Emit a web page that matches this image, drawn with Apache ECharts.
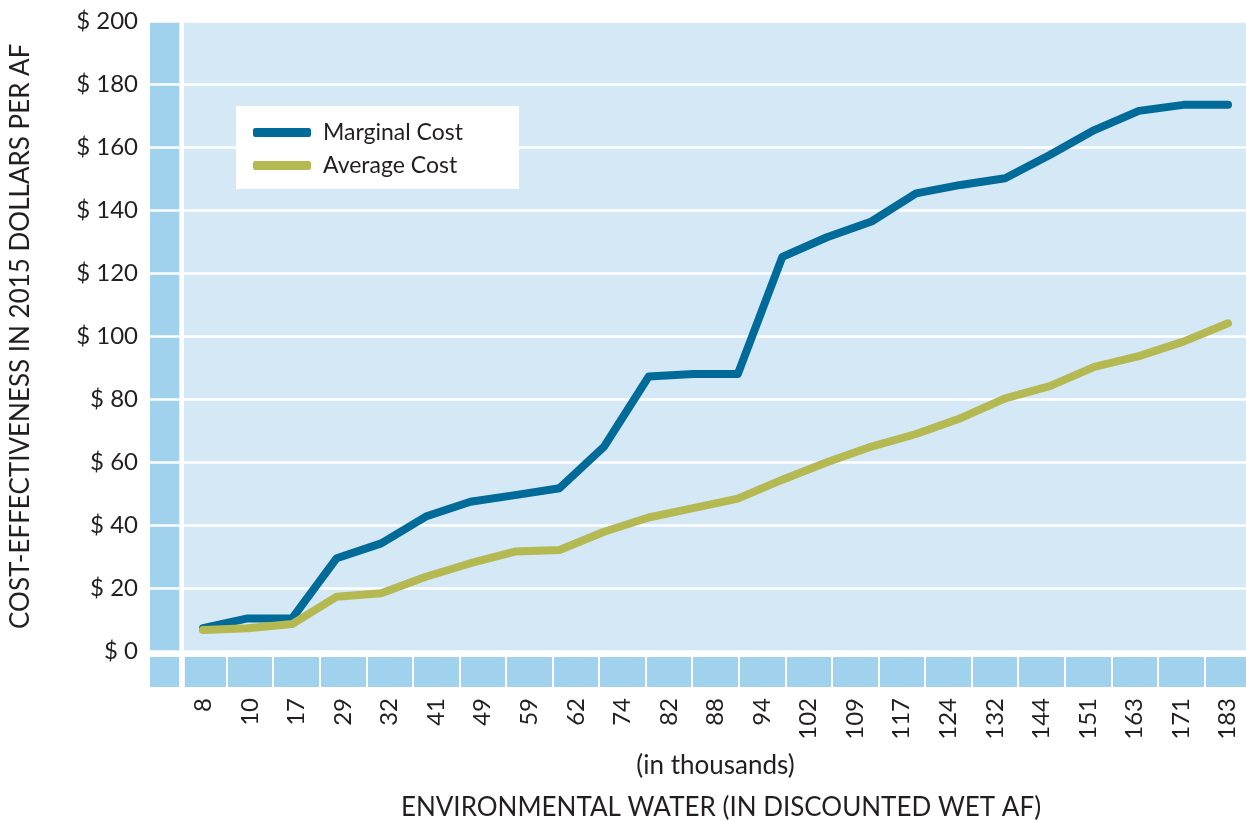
<!DOCTYPE html>
<html>
<head>
<meta charset="utf-8">
<script src="https://cdn.jsdelivr.net/npm/echarts@6/dist/echarts.min.js"></script>
<style>
  html, body { margin: 0; padding: 0; background: #fff; }
  #main { width: 1246px; height: 821px; }
</style>
</head>
<body>
<div id="main"></div>
<script>
// x labels (thousands of discounted wet AF)
const xLabels = ['8', '10', '17', '29', '32', '41', '49', '59', '62', '74', '82', '88',
  '94', '102', '109', '117', '124', '132', '144', '151', '163', '171', '183'];
// the plotted lines have 24 vertices, slightly off the label cells
const pointIdx = ['1', '2', '3', '4', '5', '6', '7', '8', '9', '10', '11', '12',
  '13', '14', '15', '16', '17', '18', '19', '20', '21', '22', '23', '24'];
const marginalCost = [7.4, 10.5, 10.5, 29.6, 34.3, 42.8, 47.5, 49.6, 51.8, 65.0, 87.2, 88.0,
  88.0, 125.2, 131.4, 136.4, 145.3, 148.0, 150.1, 157.5, 165.4, 171.5, 173.4, 173.4];
const averageCost = [6.8, 7.4, 8.7, 17.4, 18.5, 23.7, 28.0, 31.7, 32.2, 38.0, 42.5, 45.5,
  48.5, 54.5, 60.0, 65.0, 69.0, 74.0, 80.3, 84.2, 90.3, 93.7, 98.3, 104.1];
const yMin = 0, yMax = 200, yStep = 20;

const font = 'Lato';
const textColor = '#231f20';
const light = '#d4e8f5';
const dark = '#a0d2ed';

const chart = echarts.init(document.getElementById('main'));

const hiddenX = (gi) => ({ type: 'value', gridIndex: gi, show: false, min: 0, max: 1 });
const box = (o) => Object.assign({ outerBoundsMode: 'none', containLabel: false, borderWidth: 0 }, o);

const option = {
  animation: false,
  title: [{
    text: 'ENVIRONMENTAL WATER (IN DISCOUNTED WET AF)',
    left: 716, top: 790, textAlign: 'center',
    textStyle: { fontFamily: font, fontSize: 26, fontWeight: 'normal', color: textColor }
  }],
  legend: {
    data: ['Marginal Cost', 'Average Cost'],
    orient: 'vertical',
    left: 236, top: 106,
    backgroundColor: '#fff',
    padding: [15, 56, 12, 17],
    itemWidth: 58, itemHeight: 9,
    itemGap: 10,
    icon: 'roundRect',
    textStyle: { fontFamily: font, fontSize: 23, color: textColor, lineHeight: 22, padding: [0, 0, 0, 7] }
  },
  grid: [
    box({ left: 184, right: 0, top: 21, height: 630.5, show: true, backgroundColor: light }),
    box({ left: 150, width: 29.3, top: 21, height: 630.5, show: true, backgroundColor: dark }),
    box({ left: 150, width: 29.3, top: 657, height: 30, show: true, backgroundColor: dark }),
    box({ left: 180, width: 1071, top: 657, height: 30, show: true, backgroundColor: dark }),
    box({ left: 203, right: 18, top: 21, height: 630.5 })
  ],
  xAxis: [
    hiddenX(0),
    hiddenX(1),
    hiddenX(2),
    {
      type: 'category', gridIndex: 3, data: xLabels, boundaryGap: true,
      axisLine: { show: false }, axisTick: { show: false },
      splitLine: { show: true, lineStyle: { color: '#fff', width: 2 } },
      axisLabel: { rotate: 90, margin: 11, fontFamily: font, fontSize: 24, color: textColor, interval: 0 },
      name: '(in thousands)', nameLocation: 'middle', nameGap: 66,
      nameTextStyle: { fontFamily: font, fontSize: 26, color: textColor }
    },
    { type: 'category', gridIndex: 4, data: pointIdx, boundaryGap: false, show: false }
  ],
  yAxis: [
    {
      type: 'value', gridIndex: 0, min: yMin, max: yMax, interval: yStep,
      axisLine: { show: false }, axisTick: { show: false },
      splitLine: { show: true, lineStyle: { color: '#fff', width: 2.5 } },
      axisLabel: {
        margin: 46, fontFamily: font, fontSize: 24, color: textColor,
        formatter: (v) => '$ ' + v
      },
      name: 'COST-EFFECTIVENESS IN 2015 DOLLARS PER AF',
      nameLocation: 'middle', nameRotate: 90, nameGap: 150,
      nameTextStyle: { fontFamily: font, fontSize: 26, color: textColor }
    },
    {
      type: 'value', gridIndex: 1, min: yMin, max: yMax, interval: yStep,
      axisLine: { show: false }, axisTick: { show: false }, axisLabel: { show: false },
      splitLine: { show: true, lineStyle: { color: '#fff', width: 2.5 } }
    },
    { type: 'value', gridIndex: 2, show: false },
    {
      type: 'value', gridIndex: 3, offset: -2,
      axisLine: { show: true, lineStyle: { color: '#fff', width: 4.7 } },
      axisTick: { show: false }, axisLabel: { show: false }, splitLine: { show: false }
    },
    { type: 'value', gridIndex: 4, min: yMin, max: yMax, show: false }
  ],
  series: [
    {
      name: 'Marginal Cost', type: 'line', xAxisIndex: 4, yAxisIndex: 4,
      data: marginalCost, symbol: 'none', clip: false,
      itemStyle: { color: '#006a99' },
      lineStyle: { color: '#006a99', width: 8, cap: 'round', join: 'round' }
    },
    {
      name: 'Average Cost', type: 'line', xAxisIndex: 4, yAxisIndex: 4,
      data: averageCost, symbol: 'none', clip: false,
      itemStyle: { color: '#b5b951' },
      lineStyle: { color: '#b5b951', width: 8, cap: 'round', join: 'round' }
    }
  ]
};

chart.setOption(option);
</script>
</body>
</html>
